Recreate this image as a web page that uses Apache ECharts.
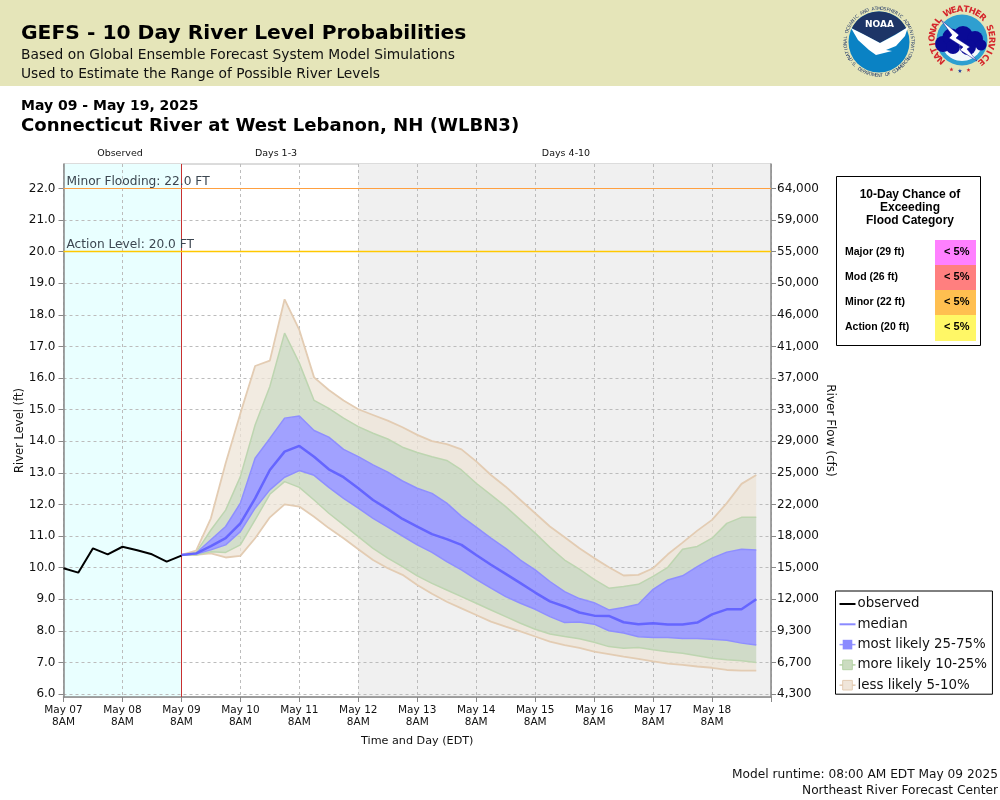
<!DOCTYPE html>
<html><head><meta charset="utf-8">
<style>html,body{margin:0;padding:0;background:#fff}#c{width:1000px;height:800px}</style>
<script src="https://cdn.jsdelivr.net/npm/echarts@6/dist/echarts.min.js"></script>
</head><body><div id="c"></div>
<script>
// six-hourly steps starting May 07 8AM; every 4th category carries a day label
const steps = ['05-07 08','05-07 14','05-07 20','05-08 02','05-08 08','05-08 14','05-08 20','05-09 02','05-09 08','05-09 14','05-09 20','05-10 02','05-10 08','05-10 14','05-10 20','05-11 02','05-11 08','05-11 14','05-11 20','05-12 02','05-12 08','05-12 14','05-12 20','05-13 02','05-13 08','05-13 14','05-13 20','05-14 02','05-14 08','05-14 14','05-14 20','05-15 02','05-15 08','05-15 14','05-15 20','05-16 02','05-16 08','05-16 14','05-16 20','05-17 02','05-17 08','05-17 14','05-17 20','05-18 02','05-18 08','05-18 14','05-18 20','05-19 02','05-19 08'];
const xTickLabels = ['May 07\n8AM','May 08\n8AM','May 09\n8AM','May 10\n8AM','May 11\n8AM','May 12\n8AM','May 13\n8AM','May 14\n8AM','May 15\n8AM','May 16\n8AM','May 17\n8AM','May 18\n8AM',''];
const levelTicks = [6,7,8,9,10,11,12,13,14,15,16,17,18,19,20,21,22];
const flowLabels = ['4,300','6,700','9,300','12,000','15,000','18,000','22,000','25,000','29,000','33,000','37,000','41,000','46,000','50,000','55,000','59,000','64,000'];

const observed = [9.98,9.84,10.61,10.42,10.66,10.55,10.42,10.19,10.38];
const FORECAST_START = 8; // index into steps
const p95 = [10.40,10.54,11.56,13.30,14.88,16.38,16.55,18.49,17.52,16.02,15.62,15.29,15.01,14.83,14.65,14.44,14.20,14.00,13.91,13.74,13.36,12.93,12.56,12.14,11.72,11.30,10.96,10.61,10.30,10.01,9.75,9.77,9.98,10.42,10.79,11.17,11.51,12.04,12.65,12.93];
const p90 = [10.40,10.48,11.19,11.82,12.88,14.51,15.73,17.42,16.47,15.29,15.04,14.73,14.46,14.25,14.07,13.81,13.64,13.51,13.39,13.09,12.67,12.30,11.93,11.51,11.09,10.64,10.24,9.95,9.63,9.35,9.40,9.47,9.72,10.01,10.58,10.67,10.93,11.40,11.59,11.59];
const p75 = [10.40,10.46,10.88,11.30,12.04,13.46,14.09,14.73,14.80,14.34,14.13,13.74,13.51,13.25,13.02,12.74,12.51,12.35,12.04,11.62,11.28,10.93,10.61,10.24,9.93,9.56,9.24,9.02,8.89,8.66,8.74,8.84,9.31,9.61,9.74,10.03,10.30,10.49,10.58,10.56];
const median = [10.40,10.45,10.68,10.93,11.40,12.19,13.09,13.67,13.85,13.51,13.11,12.86,12.51,12.14,11.85,11.54,11.30,11.06,10.90,10.72,10.40,10.09,9.80,9.51,9.21,8.93,8.77,8.58,8.48,8.47,8.27,8.21,8.24,8.20,8.20,8.26,8.52,8.68,8.68,9.00];
const p25 = [10.40,10.43,10.56,10.72,11.14,11.88,12.46,12.86,13.07,12.92,12.54,12.19,11.88,11.56,11.28,11.00,10.72,10.48,10.19,9.93,9.63,9.35,9.08,8.87,8.68,8.45,8.26,8.28,8.21,8.00,7.93,7.81,7.79,7.79,7.76,7.76,7.73,7.70,7.61,7.55];
const p10 = [10.40,10.40,10.50,10.48,10.72,11.51,12.32,12.72,12.54,12.14,11.72,11.35,10.98,10.61,10.30,10.03,9.74,9.50,9.29,9.08,8.87,8.66,8.45,8.24,8.05,7.90,7.82,7.75,7.64,7.50,7.45,7.47,7.40,7.34,7.29,7.21,7.13,7.08,7.05,7.00];
const p05 = [10.40,10.40,10.45,10.32,10.37,10.93,11.59,12.00,11.93,11.61,11.25,10.93,10.58,10.24,9.98,9.77,9.45,9.17,8.92,8.71,8.50,8.29,8.13,7.98,7.82,7.66,7.55,7.46,7.34,7.26,7.18,7.11,7.03,6.96,6.92,6.87,6.83,6.76,6.74,6.74];

const tableRows = [['Major (29 ft)','< 5%','#ff80ff'],['Mod (26 ft)','< 5%','#ff7f7f'],['Minor (22 ft)','< 5%','#ffbf50'],['Action (20 ft)','< 5%','#fff766']];

const TAN_F='rgba(238,228,215,0.75)', TAN_L='#e3ccb3', GRN_F='rgba(200,214,190,0.8)', GRN_L='#bdd5b0', BLU_F='rgba(145,145,255,0.85)', BLU_L='#8e8eff';
const DJ='"DejaVu Sans"', LIB='"Liberation Sans"';
const fc=(ys)=>ys.map((y,i)=>[FORECAST_START+i,y]);
const diff=(a,b)=>a.map((v,i)=>[FORECAST_START+i,+(v-b[i]).toFixed(3)]);
const band=(name,data,fill,line,w)=>({type:'line',name,stack:'bands',data,symbol:'rect',symbolSize:8,showSymbol:false,z:3,silent:true,
  lineStyle:{color:line,width:w},itemStyle:{color:fill,borderColor:line},areaStyle:{color:fill,opacity:1}});

const G=[];
const txt=(text,x,y,font,fill,align,extra)=>G.push(Object.assign({type:'text',x,y,style:{text,font,fill:fill||'#000',align:align||'left',verticalAlign:'middle'}},extra||{}));
G.push({type:'rect',shape:{x:0,y:0,width:1000,height:86},style:{fill:'#e5e5b9'}});
txt('GEFS - 10 Day River Level Probabilities',21,34,'bold 20.25px '+DJ);
txt('Based on Global Ensemble Forecast System Model Simulations',21,55,'13.8px '+DJ,'#111');
txt('Used to Estimate the Range of Possible River Levels',21,74,'13.8px '+DJ,'#111');
txt('May 09 - May 19, 2025',21,106,'bold 14px '+DJ);
txt('Connecticut River at West Lebanon, NH (WLBN3)',21,126,'bold 18.1px '+DJ);
txt('Observed',120,154,'9.5px '+DJ,'#111','center');
txt('Days 1-3',276,154,'9.5px '+DJ,'#111','center');
txt('Days 4-10',566,154,'9.5px '+DJ,'#111','center');
txt('Model runtime: 08:00 AM EDT May 09 2025',998,775,'12.2px '+DJ,'#111','right');
txt('Northeast River Forecast Center',998,791,'12.2px '+DJ,'#111','right');

// flood-category table
G.push({type:'rect',shape:{x:836.5,y:176.5,width:144,height:169},style:{fill:'#fff',stroke:'#000',lineWidth:1}});
['10-Day Chance of','Exceeding','Flood Category'].forEach((t,i)=>txt(t,910,195+i*13,'bold 12px '+LIB,'#000','center'));
tableRows.forEach((r,i)=>{
  const y=240+i*25;
  G.push({type:'rect',shape:{x:935,y,width:41,height:i===3?26:25},style:{fill:r[2]}});
  txt(r[0],845,y+12,'bold 10.5px '+LIB);
  txt(r[1],969.5,y+12,'bold 11px '+LIB,'#000','right');
});

// logos
const ring=(s,cx,cy,r,a0,a1,font,fill)=>{[...s].forEach((ch,i)=>{
  const t=a0+(a1-a0)*i/(s.length-1), a=t*Math.PI/180;
  if(ch!==' ')G.push({type:'text',x:cx+r*Math.sin(a),y:cy-r*Math.cos(a),rotation:-a,style:{text:ch,font,fill,align:'center',verticalAlign:'middle'}});
});};
const ringUp=(s,cx,cy,r,a0,a1,font,fill)=>{[...s].forEach((ch,i)=>{
  const t=a0+(a1-a0)*i/(s.length-1), a=t*Math.PI/180;
  if(ch!==' ')G.push({type:'text',x:cx+r*Math.sin(a),y:cy-r*Math.cos(a),rotation:Math.PI-a,style:{text:ch,font,fill,align:'center',verticalAlign:'middle'}});
});};
G.push({type:'circle',shape:{cx:879,cy:42,r:30.5},style:{fill:'#0a82c4'}});
const arcPts=(cx,cy,r,a0,a1,n)=>Array.from({length:n+1},(_,i)=>{const a=(a0+(a1-a0)*i/n)*Math.PI/180;return [cx+r*Math.sin(a),cy-r*Math.cos(a)];});
G.push({type:'polygon',shape:{points:arcPts(879,42,30.5,-63,63,24).concat([[880,43]])},style:{fill:'#1d3567'}});
G.push({type:'polygon',shape:{points:[[851,28],[863,34],[880,43],[895,35],[908,27],[905,36],[896,46],[886,50],[892,51],[876,55],[869,50],[858,40]]},style:{fill:'#fff'}});
txt('NOAA',879.5,25,'bold 9px '+DJ,'#fff','center');
ring('NATIONAL OCEANIC AND ATMOSPHERIC ADMINISTRATION',879,42,33.5,-118,118,'4.6px '+DJ,'#1d3567');
ringUp('U.S. DEPARTMENT OF COMMERCE',879,42,33.5,238,122,'4.6px '+DJ,'#1d3567');
G.push({type:'circle',shape:{cx:962,cy:40,r:25.5},style:{fill:'#2f9fd0'}});
G.push({type:'polygon',shape:{points:arcPts(962,40,21,-100,-260,24)},style:{fill:'#f2f8fb'}});
[[943,44,8],[951,37,8.5],[963,36,10],[975,39,8],[981,45,5.5],[968,47,8],[953,47,7]].forEach(c=>G.push({type:'circle',shape:{cx:c[0],cy:c[1],r:c[2]},style:{fill:'#0a0a96'}}));
G.push({type:'polygon',shape:{points:[[941,20],[959,35],[956,38],[970,47],[967,49],[977,61],[960,50],[963,47],[949,38],[952,35]]},style:{fill:'#fff',stroke:'#0a0a96',lineWidth:.5}});
ring('NATIONAL WEATHER SERVICE',962,39,29.5,-136,140,'bold 8.6px '+DJ,'#d5262b');
[[-14,'#d5262b'],[2,'#1d3fa0'],[18,'#d5262b']].forEach(s=>{
  const a=(180+s[0])*Math.PI/180, cx=961+31*Math.sin(a), cy=40-31*Math.cos(a);
  G.push({type:'polygon',shape:{points:Array.from({length:10},(_,i)=>{const r=i%2?0.9:2.2,b=i*Math.PI/5;return [cx+r*Math.sin(b),cy-r*Math.cos(b)];})},style:{fill:s[1]}});
});

const flowAt=v=>flowLabels[levelTicks.indexOf(v)]||'';
const chart=echarts.init(document.getElementById('c'),null,{renderer:'canvas'});
const axisText={color:'#111',fontFamily:DJ};
const Y_MIN=5.905, Y_MAX=22.772;
chart.setOption({
  animation:false,
  grid:{left:63.5,right:229,top:164,bottom:103,outerBoundsMode:'none',show:true,borderColor:'#b8b8b8',borderWidth:1,backgroundColor:'#fff'},
  xAxis:{type:'category',data:steps,boundaryGap:false,z:1,
    name:'Time and Day (EDT)',nameLocation:'middle',nameGap:39,nameMoveOverlap:false,nameTextStyle:{fontSize:11.2,color:'#111',fontFamily:DJ},
    axisLine:{lineStyle:{color:'#888',width:1.5}},axisTick:{length:5,interval:3,lineStyle:{color:'#888'}},
    axisLabel:Object.assign({fontSize:10.5,lineHeight:12,margin:7,interval:3,hideOverlap:false,formatter:(v,i)=>xTickLabels[i/4]||''},axisText),
    splitLine:{show:true,interval:3,lineStyle:{color:'#bcbcbc',type:[3,3],width:1}}},
  yAxis:[
   {type:'value',min:Y_MIN,max:Y_MAX,position:'left',z:1,
    name:'River Level (ft)',nameLocation:'middle',nameGap:37.5,nameMoveOverlap:false,nameTextStyle:{fontSize:11.5,color:'#111',fontFamily:DJ},
    axisLine:{show:true,lineStyle:{color:'#888',width:1.5}},axisTick:{show:true,length:5,customValues:levelTicks,lineStyle:{color:'#888'}},
    axisLabel:Object.assign({fontSize:12,margin:8,padding:[3,0,0,0],customValues:levelTicks,formatter:v=>v.toFixed(1)},axisText),
    splitLine:{show:true,customValues:levelTicks,lineStyle:{color:'#bcbcbc',type:[3,3],width:1}}},
   {type:'value',min:Y_MIN,max:Y_MAX,position:'right',z:1,
    name:'River Flow (cfs)',nameLocation:'middle',nameGap:53.5,nameMoveOverlap:false,nameRotate:-90,nameTextStyle:{fontSize:12,color:'#111',fontFamily:DJ},
    axisLine:{show:true,lineStyle:{color:'#888',width:1.5}},axisTick:{show:true,length:5,customValues:levelTicks,lineStyle:{color:'#888'}},
    axisLabel:Object.assign({fontSize:12,margin:6,padding:[3,0,0,0],customValues:levelTicks,formatter:v=>flowAt(Math.round(v))},axisText),
    splitLine:{show:false}}
  ],
  legend:{orient:'vertical',left:835.5,top:591,padding:[6,5.5,2,3],itemWidth:16,itemHeight:12,itemGap:6.3,selectedMode:false,
    backgroundColor:'#fff',borderColor:'#000',borderWidth:1,
    textStyle:{fontFamily:DJ,fontSize:13.4,lineHeight:14,color:'#111',padding:[0,0,0,-3]},
    data:[
      {name:'observed',itemStyle:{opacity:0},lineStyle:{color:'#000',width:2}},
      {name:'median',itemStyle:{opacity:0},lineStyle:{color:'#8a8aff',width:2}},
      {name:'most likely 25-75%',itemStyle:{color:'#8a8aff',borderWidth:0},lineStyle:{color:'#9a9aff',width:1.5}},
      {name:'more likely 10-25%',itemStyle:{color:'#cbdcc0',borderColor:'#b5d2a5',borderWidth:1},lineStyle:{color:'#b5d2a5',width:1.5}},
      {name:'less likely 5-10%',itemStyle:{color:'#f0e6da',borderColor:'#e3ccb3',borderWidth:1},lineStyle:{color:'#e3ccb3',width:1.5}}
    ]},
  graphic:{elements:G},
  series:[
    {type:'line',name:'backgrounds',data:[],z:0,silent:true,
      markArea:{silent:true,z:0,data:[
        [{xAxis:0,itemStyle:{color:'#e9ffff'}},{xAxis:8}],
        [{xAxis:20,itemStyle:{color:'#f0f0f0'}},{xAxis:48}]]}},
    {type:'line',name:'p5 floor',stack:'bands',data:fc(p05),symbol:'none',z:3,silent:true,lineStyle:{color:TAN_L,width:1.8}},
    band('less likely 5-10%',diff(p10,p05),TAN_F,GRN_L,1.5),
    band('more likely 10-25%',diff(p25,p10),GRN_F,BLU_L,1.5),
    band('most likely 25-75%',diff(p75,p25),BLU_F,BLU_L,1.5),
    band('more likely 10-25%',diff(p90,p75),GRN_F,GRN_L,1.5),
    band('less likely 5-10%',diff(p95,p90),TAN_F,TAN_L,1.8),
    {type:'line',name:'median',data:fc(median),symbol:'none',z:5,silent:true,lineStyle:{color:'#6565ff',width:2.5}},
    {type:'line',name:'observed',data:observed.map((y,i)=>[i,y]),symbol:'none',z:6,silent:true,lineStyle:{color:'#000',width:2},
      markLine:{silent:true,symbol:'none',z:4,animation:false,data:[
        {xAxis:8,lineStyle:{color:'#c83030',width:1,type:'solid'},label:{show:false}},
        {yAxis:22,lineStyle:{color:'#ffa040',width:1,type:'solid'},label:{show:true,position:'insideStartTop',distance:[3,1],formatter:'Minor Flooding: 22.0 FT',fontFamily:DJ,fontSize:12.2,color:'#3c4650'}},
        {yAxis:20,lineStyle:{color:'#ffc800',width:1.4,type:'solid'},label:{show:true,position:'insideStartTop',distance:[3,1],formatter:'Action Level: 20.0 FT',fontFamily:DJ,fontSize:12.2,color:'#3c4650'}}
      ]}}
  ]
});
</script></body></html>
